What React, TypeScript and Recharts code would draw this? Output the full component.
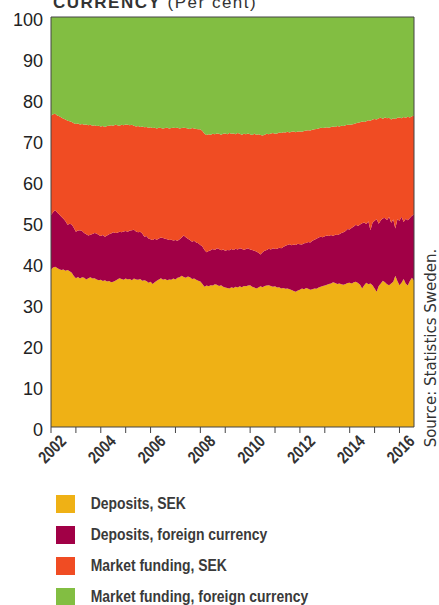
import { AreaChart, Area, XAxis, YAxis, ReferenceLine } from "recharts";

// monthly observations, Jan 2002 - Aug 2016 (per cent)
const depositsSek = [
  38.4, 38.9, 39.1, 38.8, 38.5, 38.3, 38.4, 38.1, 38.3, 38.0, 37.6, 36.8,
  36.3, 36.6, 36.2, 36.5, 36.4, 36.0, 36.3, 36.5, 36.2, 36.3, 36.0, 35.8,
  35.9, 35.6, 35.8, 35.5, 35.6, 35.3, 35.4, 35.7, 36.0, 36.3, 36.1, 35.9,
  36.2, 36.0, 36.1, 35.8, 36.2, 36.0, 35.9, 36.1, 35.7, 35.8, 35.6, 35.2,
  35.4, 34.9, 35.3, 35.7, 36.0, 36.3, 35.9, 36.1, 35.8, 36.0, 35.9, 36.2,
  36.0, 36.4, 36.5, 36.9, 36.6, 36.4, 36.7, 36.5, 36.1, 36.2, 35.9, 35.7,
  35.5, 34.9, 34.2, 34.5, 34.3, 34.6, 34.5, 34.8, 34.7, 34.4, 34.6, 34.2,
  34.0, 33.9, 33.8, 34.1, 33.9, 34.2, 34.0, 34.3, 34.1, 34.4, 34.3, 34.5,
  34.6, 34.2, 34.0, 33.8, 34.0, 34.3, 34.1, 34.4, 34.5, 34.6, 34.4, 34.2,
  34.3, 34.0, 34.1, 33.8, 33.9, 33.7, 33.8, 33.6, 33.4, 33.2, 33.0, 33.3,
  33.5, 33.8, 33.6, 33.9, 33.7, 33.5, 33.6, 33.8, 33.7, 34.0, 34.2, 34.4,
  34.5, 34.7, 34.9, 35.0, 35.3, 35.1, 34.9, 35.0, 34.8, 34.7, 34.9, 35.1,
  35.2, 35.0, 35.3, 35.4, 35.1, 34.7, 33.8, 34.6, 35.2, 34.8, 35.0, 34.6,
  33.8, 33.0, 34.4, 35.0, 35.7, 35.3, 34.8, 34.6, 35.0, 35.4, 36.9, 35.6,
  34.6, 35.2, 36.1, 35.0, 34.5, 35.6, 36.4, 35.7,
];

const depositsFx = [
  13.3, 13.5, 13.8, 13.5, 13.3, 13.0, 12.4, 12.1, 11.0, 11.6, 11.8, 11.8,
  11.3, 11.3, 11.8, 11.3, 10.9, 11.0, 10.4, 10.4, 10.9, 11.0, 11.2, 11.0,
  10.7, 11.2, 10.6, 11.2, 11.4, 11.9, 12.1, 11.6, 11.4, 11.3, 11.4, 11.8,
  11.6, 11.6, 11.8, 12.2, 11.9, 11.7, 11.6, 11.5, 11.5, 10.6, 11.0, 10.8,
  10.4, 10.7, 10.6, 10.0, 10.0, 9.9, 10.2, 9.8, 10.0, 9.6, 9.8, 9.3,
  9.6, 9.0, 9.3, 9.3, 10.1, 9.9, 9.2, 9.1, 9.1, 9.2, 9.1, 9.1,
  8.9, 9.1, 9.0, 8.1, 8.6, 8.5, 8.9, 8.4, 8.9, 9.0, 8.5, 9.1,
  9.0, 9.3, 9.3, 9.3, 9.3, 9.3, 9.3, 9.3, 9.4, 8.8, 9.1, 9.1,
  8.7, 9.0, 9.0, 9.0, 8.5, 7.8, 8.5, 8.6, 8.7, 8.9, 8.9, 9.4,
  9.1, 9.5, 9.6, 9.8, 10.0, 10.5, 10.6, 11.0, 10.9, 11.3, 11.4, 11.4,
  11.1, 10.7, 11.2, 11.0, 11.4, 11.5, 11.8, 11.9, 12.2, 12.2, 12.2, 11.9,
  12.0, 12.0, 11.7, 11.8, 11.3, 11.8, 11.9, 12.0, 12.5, 12.8, 12.9, 13.2,
  13.0, 13.6, 13.6, 13.9, 13.9, 14.7, 15.9, 15.3, 14.3, 15.4, 13.0, 15.2,
  16.5, 17.7, 15.2, 15.4, 15.2, 15.7, 15.7, 16.6, 14.8, 15.2, 11.5, 15.1,
  15.7, 16.1, 13.9, 15.8, 15.9, 15.4, 15.1, 16.1,
];

const marketSek = [
  24.3, 23.9, 23.5, 23.7, 24.0, 24.2, 24.4, 24.8, 25.4, 25.0, 25.0, 25.5,
  26.3, 26.1, 25.8, 26.1, 26.4, 26.8, 26.9, 26.8, 26.4, 26.3, 26.2, 26.7,
  26.7, 26.6, 26.8, 26.7, 26.5, 26.4, 26.0, 26.4, 26.2, 25.9, 26.2, 25.9,
  26.0, 26.1, 25.7, 25.7, 25.4, 25.6, 25.9, 25.6, 26.1, 26.7, 26.6, 27.0,
  27.3, 27.3, 27.1, 27.1, 27.0, 26.7, 26.7, 27.0, 27.2, 27.2, 27.2, 27.5,
  27.3, 27.6, 27.0, 26.7, 26.3, 26.6, 26.9, 27.1, 27.7, 27.4, 27.7, 27.8,
  28.2, 28.2, 28.3, 28.6, 28.5, 28.2, 28.1, 28.2, 28.0, 28.1, 28.2, 28.2,
  28.6, 28.2, 28.6, 28.1, 28.4, 27.9, 28.4, 27.9, 27.8, 28.3, 28.0, 28.0,
  28.1, 28.0, 28.5, 28.5, 28.9, 29.1, 28.5, 28.3, 28.3, 27.9, 28.3, 28.1,
  28.1, 28.1, 28.1, 28.1, 28.0, 27.6, 27.6, 27.2, 27.7, 27.6, 27.5, 27.4,
  27.5, 27.5, 27.4, 27.4, 27.3, 27.3, 27.1, 26.9, 26.8, 26.6, 26.6, 26.6,
  26.5, 26.4, 26.4, 26.4, 26.7, 26.3, 26.6, 26.3, 26.2, 25.9, 25.8, 25.4,
  25.5, 25.2, 25.0, 24.8, 25.2, 24.9, 24.8, 24.5, 25.1, 24.6, 26.7, 25.2,
  24.8, 24.3, 25.7, 25.0, 24.3, 24.5, 24.8, 24.2, 25.2, 24.7, 26.7, 24.7,
  25.2, 24.0, 25.6, 24.6, 25.3, 24.5, 24.3, 24.1,
];

const marketFx = [
  24.0, 23.7, 23.6, 24.0, 24.2, 24.5, 24.8, 25.0, 25.3, 25.4, 25.6, 25.9,
  26.1, 26.0, 26.2, 26.1, 26.3, 26.2, 26.4, 26.3, 26.5, 26.4, 26.6, 26.5,
  26.7, 26.6, 26.8, 26.6, 26.5, 26.4, 26.5, 26.3, 26.4, 26.5, 26.3, 26.4,
  26.2, 26.3, 26.4, 26.3, 26.5, 26.7, 26.6, 26.8, 26.7, 26.9, 26.8, 27.0,
  26.9, 27.1, 27.0, 27.2, 27.0, 27.1, 27.2, 27.1, 27.0, 27.2, 27.1, 27.0,
  27.1, 27.0, 27.2, 27.1, 27.0, 27.1, 27.2, 27.3, 27.1, 27.2, 27.3, 27.4,
  27.4, 27.8, 28.5, 28.8, 28.6, 28.7, 28.5, 28.6, 28.4, 28.5, 28.7, 28.5,
  28.4, 28.6, 28.3, 28.5, 28.4, 28.6, 28.3, 28.5, 28.7, 28.5, 28.6, 28.4,
  28.6, 28.8, 28.5, 28.7, 28.6, 28.8, 28.9, 28.7, 28.5, 28.6, 28.4, 28.3,
  28.5, 28.4, 28.2, 28.3, 28.1, 28.2, 28.0, 28.2, 28.0, 27.9, 28.1, 27.9,
  27.9, 28.0, 27.8, 27.7, 27.6, 27.7, 27.5, 27.4, 27.3, 27.2, 27.0, 27.1,
  27.0, 26.9, 27.0, 26.8, 26.7, 26.8, 26.6, 26.7, 26.5, 26.6, 26.4, 26.3,
  26.3, 26.2, 26.1, 25.9, 25.8, 25.7, 25.5, 25.6, 25.4, 25.2, 25.3, 25.0,
  24.9, 25.0, 24.7, 24.6, 24.8, 24.5, 24.7, 24.6, 25.0, 24.7, 24.9, 24.6,
  24.5, 24.7, 24.4, 24.6, 24.3, 24.5, 24.2, 24.1,
];

const startYear = 2002;
const yearTicks = [2002, 2003, 2004, 2005, 2006, 2007, 2008, 2009, 2010, 2011, 2012, 2013, 2014, 2015, 2016];
const yTicks = [0, 10, 20, 30, 40, 50, 60, 70, 80, 90, 100];

const series = [
  { key: "depositsSek", name: "Deposits, SEK", color: "#EFB115" },
  { key: "depositsFx", name: "Deposits, foreign currency", color: "#A10046" },
  { key: "marketSek", name: "Market funding, SEK", color: "#F04C23" },
  { key: "marketFx", name: "Market funding, foreign currency", color: "#82BE42" },
];

const data = depositsSek.map((v, i) => ({
  t: startYear + i / 12,
  depositsSek: v,
  depositsFx: depositsFx[i],
  marketSek: marketSek[i],
  marketFx: marketFx[i],
}));

const xEnd = startYear + (data.length - 1) / 12;

// no narrow font installed, so squeeze the bold sans horizontally
const narrowFont = "'Liberation Sans', Arial, sans-serif";

const XTick = ({ x, y, payload }: any) => {
  if (payload.value % 2 !== 0) return <g />;
  const cy = y + 14;
  return (
    <g transform={`translate(${x + 1} ${cy}) rotate(-45) scale(0.82 1)`}>
      <text
        x={0}
        y={0}
        textAnchor="middle"
        dominantBaseline="central"
        fontFamily={narrowFont}
        fontWeight="bold"
        fontSize={17}
        fill="#333"
      >
        {payload.value}
      </text>
    </g>
  );
};

const YTick = ({ x, y, payload }: any) => (
  <text
    x={x}
    y={y}
    dy="0.5em"
    textAnchor="end"
    fontFamily="'Liberation Sans', Arial, sans-serif"
    fontSize={18}
    fill="#222"
  >
    {payload.value}
  </text>
);

export default function App() {
  return (
    <div
      style={{
        position: "absolute",
        left: 0,
        top: 0,
        width: 439,
        height: 605,
        overflow: "hidden",
        background: "#fff",
      }}
    >
      <AreaChart
        width={439}
        height={480}
        data={data}
        margin={{ top: 17, right: 25, bottom: 0, left: 0 }}
      >
        <XAxis
          dataKey="t"
          type="number"
          domain={[startYear, xEnd]}
          ticks={yearTicks}
          interval={0}
          height={53}
          tickSize={6}
          tickLine={{ stroke: "#444" }}
          axisLine={{ stroke: "#444" }}
          tick={<XTick />}
        />
        <YAxis
          type="number"
          domain={[0, 100]}
          ticks={yTicks}
          allowDataOverflow
          width={51}
          tickLine={false}
          axisLine={{ stroke: "#444" }}
          tick={<YTick />}
        />
        {series.map((s) => (
          <Area
            key={s.key}
            type="linear"
            dataKey={s.key}
            name={s.name}
            stackId="a"
            stroke="none"
            fill={s.color}
            fillOpacity={1}
            dot={false}
            activeDot={false}
            isAnimationActive={false}
          />
        ))}
        <ReferenceLine y={100} stroke="#444" />
        <ReferenceLine x={xEnd} stroke="#444" />
      </AreaChart>

      <svg
        width={439}
        height={605}
        style={{ position: "absolute", left: 0, top: 0, pointerEvents: "none" }}
      >
        <text
          x={53}
          y={8.3}
          fontFamily="'Liberation Sans', Arial, sans-serif"
          fontSize={17}
          letterSpacing={1.5}
          fill="#333"
        >
          <tspan fontWeight="bold">CURRENCY</tspan> (Per cent)
        </text>
        <text
          transform="translate(436 348) rotate(-90)"
          textAnchor="middle"
          fontFamily="'DejaVu Sans', sans-serif"
          fontSize={15}
          fill="#333"
        >
          Source: Statistics Sweden.
        </text>
        {series.map((s, i) => {
          const top = 495 + i * 31;
          return (
            <g key={s.key}>
              <rect x={56} y={top} width={19} height={18} fill={s.color} />
              <g transform={`translate(90.7 ${top + 14.3}) scale(0.82 1)`}>
                <text
                  x={0}
                  y={0}
                  fontFamily={narrowFont}
                  fontWeight="bold"
                  fontSize={17}
                  fill="#3a3a3a"
                >
                  {s.name}
                </text>
              </g>
            </g>
          );
        })}
      </svg>
    </div>
  );
}
